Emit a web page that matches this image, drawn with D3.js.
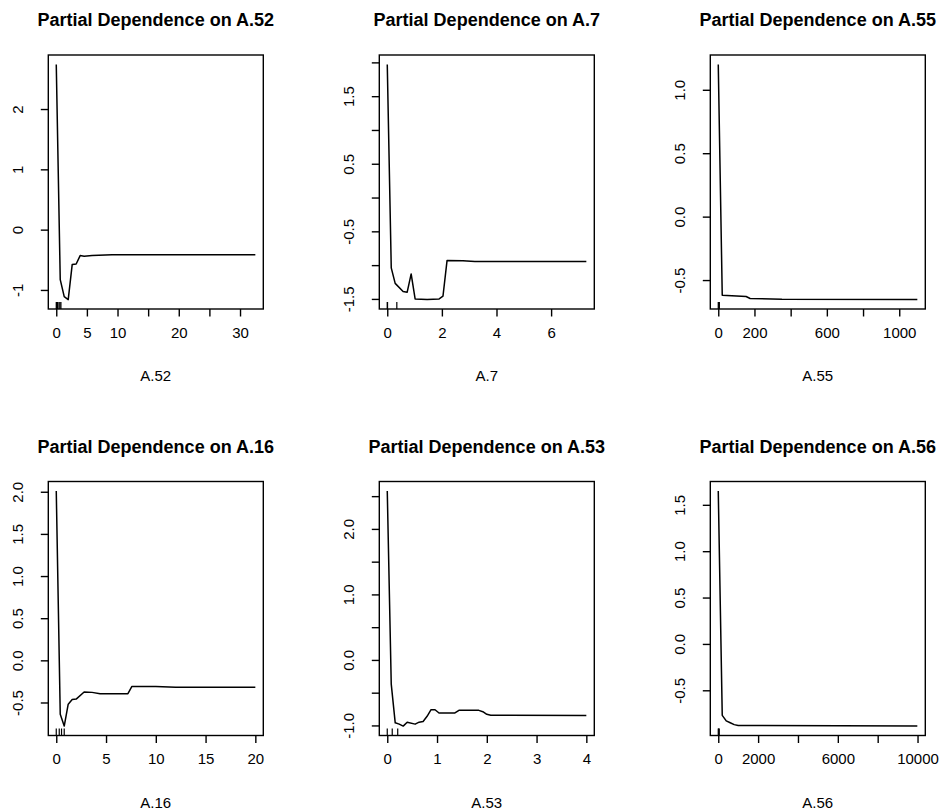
<!DOCTYPE html>
<html lang="en">
<head>
    <meta charset="UTF-8">
    <title>Partial Dependence</title>
    <script src="https://d3js.org/d3.v7.min.js"></script>
    <style>
        body { margin: 0; background: #fff; }
        svg text { font-family: "Liberation Sans", Arial, Helvetica, sans-serif; fill: #000; }
    </style>
</head>
<body>
    <svg width="945" height="809"></svg>

    <script>
    // --- data ---
    const a52X = [0, 0.65, 1.3, 1.95, 2.6, 3.25, 3.9, 4.55, 5.85, 9.1, 32.5];
    const a52Y = [2.74, -0.83, -1.11, -1.16, -0.58, -0.57, -0.43, -0.44, -0.43, -0.415, -0.415];
    const a52Rug = [0, 0.05, 0.2, 0.44, 0.6, 0.76];
    const a52XTicks = [0, 5, 10, 15, 20, 25, 30];
    const a52XLabels = ["0", "5", "10", "", "20", "", "30"];
    const a52YTicks = [-1, 0, 1, 2];
    const a52YLabels = ["-1", "0", "1", "2"];

    const a7X = [0, 0.146, 0.29, 0.58, 0.73, 0.875, 1.02, 1.46, 1.9, 2.04, 2.19, 2.77, 3.21, 7.29];
    const a7Y = [1.97, -1.04, -1.27, -1.39, -1.40, -1.13, -1.50, -1.51, -1.50, -1.46, -0.93, -0.935, -0.945, -0.945];
    const a7Rug = [0, 0.01, 0.35];
    const a7XTicks = [0, 2, 4, 6];
    const a7XLabels = ["0", "2", "4", "6"];
    const a7YTicks = [-1.5, -1.0, -0.5, 0, 0.5, 1.0, 1.5, 2.0];
    const a7YLabels = ["-1.5", "", "-0.5", "", "0.5", "", "1.5", ""];

    const a55X = [0, 22, 154, 176, 352, 1100];
    const a55Y = [1.20, -0.62, -0.63, -0.645, -0.652, -0.654];
    const a55Rug = [0, 3, 6];
    const a55XTicks = [0, 200, 400, 600, 800, 1000];
    const a55XLabels = ["0", "200", "", "600", "", "1000"];
    const a55YTicks = [-0.5, 0, 0.5, 1.0];
    const a55YLabels = ["-0.5", "0.0", "0.5", "1.0"];

    const a16X = [0, 0.4, 0.8, 1.2, 1.6, 2.0, 2.8, 3.6, 4.4, 7.2, 7.6, 10.0, 12.0, 20.0];
    const a16Y = [2.01, -0.64, -0.78, -0.52, -0.465, -0.46, -0.375, -0.38, -0.395, -0.395, -0.31, -0.31, -0.32, -0.32];
    const a16Rug = [0, 0.3, 0.53, 0.8];
    const a16XTicks = [0, 5, 10, 15, 20];
    const a16XLabels = ["0", "5", "10", "15", "20"];
    const a16YTicks = [-0.5, 0, 0.5, 1.0, 1.5, 2.0];
    const a16YLabels = ["-0.5", "0.0", "0.5", "1.0", "1.5", "2.0"];

    const a53X = [0, 0.08, 0.16, 0.24, 0.32, 0.40, 0.56, 0.64, 0.72, 0.80, 0.88, 0.96, 1.04, 1.36, 1.44, 1.84, 1.92, 2.0, 2.08, 4.0];
    const a53Y = [2.58, -0.37, -0.96, -0.98, -1.01, -0.95, -0.98, -0.95, -0.94, -0.86, -0.76, -0.76, -0.81, -0.81, -0.77, -0.77, -0.79, -0.83, -0.845, -0.85];
    const a53Rug = [0, 0.1, 0.21];
    const a53XTicks = [0, 1, 2, 3, 4];
    const a53XLabels = ["0", "1", "2", "3", "4"];
    const a53YTicks = [-1.0, -0.5, 0, 0.5, 1.0, 1.5, 2.0, 2.5];
    const a53YLabels = ["-1.0", "", "0.0", "", "1.0", "", "2.0", ""];

    const a56X = [0, 200, 400, 600, 800, 1000, 9990];
    const a56Y = [1.65, -0.77, -0.83, -0.85, -0.87, -0.88, -0.886];
    const a56Rug = [0, 20, 50];
    const a56XTicks = [0, 2000, 4000, 6000, 8000, 10000];
    const a56XLabels = ["0", "2000", "", "6000", "", "10000"];
    const a56YTicks = [-0.5, 0, 0.5, 1.0, 1.5];
    const a56YLabels = ["-0.5", "0.0", "0.5", "1.0", "1.5"];

    const names = ["A.52", "A.7", "A.55", "A.16", "A.53", "A.56"];

    const panels = [
        { x: a52X, y: a52Y, rug: a52Rug, xt: a52XTicks, xl: a52XLabels, yt: a52YTicks, yl: a52YLabels },
        { x: a7X, y: a7Y, rug: a7Rug, xt: a7XTicks, xl: a7XLabels, yt: a7YTicks, yl: a7YLabels },
        { x: a55X, y: a55Y, rug: a55Rug, xt: a55XTicks, xl: a55XLabels, yt: a55YTicks, yl: a55YLabels },
        { x: a16X, y: a16Y, rug: a16Rug, xt: a16XTicks, xl: a16XLabels, yt: a16YTicks, yl: a16YLabels },
        { x: a53X, y: a53Y, rug: a53Rug, xt: a53XTicks, xl: a53XLabels, yt: a53YTicks, yl: a53YLabels },
        { x: a56X, y: a56Y, rug: a56Rug, xt: a56XTicks, xl: a56XLabels, yt: a56YTicks, yl: a56YLabels }
    ];

    // layout of the 2x3 grid
    const boxLeft = [48.3, 379.3, 710.3];
    const boxTop = [55, 481.5];
    const boxW = 215;
    const boxH = 254;
    const tickLen = 7.5;

    const svg = d3.select("svg");

    // R style range: data range padded by 4% on both sides
    function padded(values) {
        const [lo, hi] = d3.extent(values);
        const p = (hi - lo) * 0.04;
        return [lo - p, hi + p];
    }

    panels.forEach((p, i) => {
        const col = i % 3, row = Math.floor(i / 3);
        const left = boxLeft[col], top = boxTop[row];

        const x = d3.scaleLinear().domain(padded(p.x)).range([left, left + boxW]);
        const y = d3.scaleLinear().domain(padded(p.y)).range([top + boxH, top]);

        const g = svg.append("g");

        // title
        g.append("text")
            .attr("x", left + boxW / 2)
            .attr("y", top - 29)
            .attr("text-anchor", "middle")
            .attr("font-size", "18px")
            .attr("font-weight", "bold")
            .text("Partial Dependence on " + names[i]);

        // x axis
        const xa = g.append("g")
            .attr("transform", `translate(0,${top + boxH})`)
            .call(d3.axisBottom(x).tickValues(p.xt).tickSize(tickLen).tickSizeOuter(0)
                .tickFormat((d, k) => p.xl[k]));
        xa.select(".domain").remove();
        xa.selectAll("line").attr("stroke", "#000").attr("stroke-width", 1.4);
        xa.selectAll("text").attr("y", 28.5).attr("dy", 0)
            .attr("font-size", "15px").attr("font-family", null).attr("fill", "#000");

        // y axis, labels turned along the axis
        const ya = g.append("g")
            .attr("transform", `translate(${left},0)`)
            .call(d3.axisLeft(y).tickValues(p.yt).tickSize(tickLen).tickSizeOuter(0)
                .tickFormat((d, k) => p.yl[k]));
        ya.select(".domain").remove();
        ya.selectAll("line").attr("stroke", "#000").attr("stroke-width", 1.4);
        ya.selectAll("text")
            .attr("x", null).attr("y", null).attr("dy", 0)
            .attr("transform", "translate(-25,0) rotate(-90)")
            .attr("text-anchor", "middle")
            .attr("font-size", "15px").attr("font-family", null).attr("fill", "#000");

        // x label
        g.append("text")
            .attr("x", left + boxW / 2)
            .attr("y", top + boxH + 72)
            .attr("text-anchor", "middle")
            .attr("font-size", "15px")
            .text(names[i]);

        // rug of deciles
        g.selectAll(".rug")
            .data(p.rug)
            .enter().append("line")
            .attr("x1", d => x(d)).attr("x2", d => x(d))
            .attr("y1", top + boxH).attr("y2", top + boxH - 7)
            .attr("stroke", "#000")
            .attr("stroke-width", 1.2);

        // partial dependence curve
        const line = d3.line().x(d => x(d[0])).y(d => y(d[1]));
        g.append("path")
            .datum(d3.zip(p.x, p.y))
            .attr("d", line)
            .attr("fill", "none")
            .attr("stroke", "#000")
            .attr("stroke-width", 1.5)
            .attr("stroke-linejoin", "round");

        // box
        g.append("rect")
            .attr("x", left).attr("y", top)
            .attr("width", boxW).attr("height", boxH)
            .attr("fill", "none")
            .attr("stroke", "#000")
            .attr("stroke-width", 1.4);
    });
    </script>
</body>
</html>
